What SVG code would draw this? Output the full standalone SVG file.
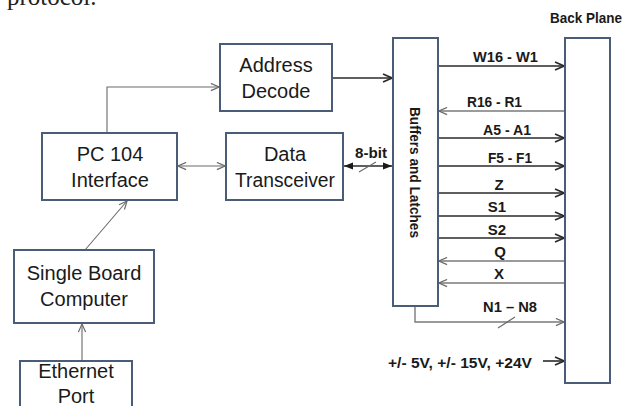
<svg xmlns="http://www.w3.org/2000/svg" width="630" height="406" viewBox="0 0 630 406">
<defs>
<style>
.box{fill:#fff;stroke:#4a5d78;stroke-width:2}
.t{font-family:"Liberation Sans",Arial,sans-serif;font-size:20px;fill:#1a1a1a;text-anchor:middle}
.b{font-family:"Liberation Sans",Arial,sans-serif;font-weight:bold;font-size:15px;fill:#1a1a1a}
.thin{fill:none;stroke:#6a6a6a;stroke-width:1.1}
.bus{fill:none;stroke:#2a2a2a;stroke-width:1.6}
.gbus{fill:none;stroke:#7a7a7a;stroke-width:1.4}
</style>
<marker id="ag" viewBox="0 0 10 10" refX="10" refY="5" markerWidth="9" markerHeight="9" markerUnits="userSpaceOnUse" orient="auto-start-reverse"><path d="M1,1 L10,5 L1,9" fill="none" stroke="#6a6a6a" stroke-width="1.3"/></marker>
<marker id="ab" viewBox="0 0 10 10" refX="10" refY="5" markerWidth="10" markerHeight="10" markerUnits="userSpaceOnUse" orient="auto-start-reverse"><path d="M1,1 L10,5 L1,9" fill="none" stroke="#2a2a2a" stroke-width="1.6"/></marker>
<marker id="af" viewBox="0 0 10 10" refX="10" refY="5" markerWidth="9" markerHeight="9" markerUnits="userSpaceOnUse" orient="auto-start-reverse"><path d="M0,1 L10,5 L0,9 Z" fill="#1a1a1a"/></marker>
</defs>
<rect width="630" height="406" fill="#fff"/>
<text x="7" y="5" font-family="Liberation Serif,serif" font-size="25" fill="#222">protocol.</text>

<g id="connectors">
<path class="thin" d="M107,133 V87 H219" marker-end="url(#ag)"/>
<path class="thin" d="M178,166 H225" marker-start="url(#ag)" marker-end="url(#ag)"/>
<path class="thin" d="M85,250 L127,201" marker-end="url(#ag)"/>
<path class="thin" d="M82,361 V324" marker-end="url(#ag)"/>
<path class="bus" d="M333,78 H392" marker-end="url(#ab)"/>
<path class="bus" d="M344,166 H392" marker-start="url(#af)" marker-end="url(#af)"/>
<path class="thin" d="M359,172 L376,162"/>
<path class="bus" d="M439,66 H564" marker-end="url(#ab)"/>
<path class="gbus" d="M564,111 H439" marker-end="url(#ag)"/>
<path class="bus" d="M439,138 H564" marker-end="url(#ab)"/>
<path class="bus" d="M439,166 H564" marker-end="url(#ab)"/>
<path class="bus" d="M439,193 H564" marker-end="url(#ab)"/>
<path class="bus" d="M439,216 H564" marker-end="url(#ab)"/>
<path class="bus" d="M439,238 H564" marker-end="url(#ab)"/>
<path class="gbus" d="M564,261 H439" marker-end="url(#ag)"/>
<path class="gbus" d="M564,283 H439" marker-end="url(#ag)"/>
<path class="gbus" d="M415,307 V322 H564" marker-end="url(#ag)"/>
<path class="thin" d="M498,328 L515,317"/>
<path class="bus" d="M543,361 H564" marker-end="url(#ab)"/>
</g>

<g id="address-decode"><rect class="box" x="220" y="44" width="112" height="67"/><text class="t" x="276" y="72">Address</text><text class="t" x="276" y="98">Decode</text></g>
<g id="pc104"><rect class="box" x="42" y="133" width="135" height="67"/><text class="t" x="110" y="161">PC 104</text><text class="t" x="110" y="187">Interface</text></g>
<g id="data-transceiver"><rect class="box" x="226" y="133" width="117" height="67"/><text class="t" x="285" y="161">Data</text><text class="t" x="285" y="187" textLength="100" lengthAdjust="spacingAndGlyphs">Transceiver</text></g>
<g id="sbc"><rect class="box" x="14" y="250" width="140" height="73"/><text class="t" x="84" y="280">Single Board</text><text class="t" x="84" y="306">Computer</text></g>
<g id="ethernet"><rect class="box" x="20" y="361" width="112" height="60"/><text class="t" x="76" y="378">Ethernet</text><text class="t" x="76" y="403">Port</text></g>
<g id="buffers"><rect class="box" x="393" y="38" width="45" height="268"/><text class="b" transform="translate(410,107) rotate(90)" textLength="131" lengthAdjust="spacingAndGlyphs">Buffers and Latches</text></g>
<g id="backplane"><rect class="box" x="565" y="38" width="45" height="345"/><text class="b" x="550" y="23" textLength="72" lengthAdjust="spacingAndGlyphs">Back Plane</text></g>

<g id="labels">
<text class="b" x="355" y="158" textLength="32" lengthAdjust="spacingAndGlyphs">8-bit</text>
<text class="b" x="473" y="62" textLength="65" lengthAdjust="spacingAndGlyphs">W16 - W1</text>
<text class="b" x="467" y="107" textLength="55" lengthAdjust="spacingAndGlyphs">R16 - R1</text>
<text class="b" x="483" y="135" textLength="48" lengthAdjust="spacingAndGlyphs">A5 - A1</text>
<text class="b" x="488" y="163" textLength="44" lengthAdjust="spacingAndGlyphs">F5 - F1</text>
<text class="b" x="499" y="190" text-anchor="middle">Z</text>
<text class="b" x="497" y="212" text-anchor="middle">S1</text>
<text class="b" x="497" y="235" text-anchor="middle">S2</text>
<text class="b" x="500" y="257" text-anchor="middle">Q</text>
<text class="b" x="499" y="279" text-anchor="middle">X</text>
<text class="b" x="483" y="312" textLength="54" lengthAdjust="spacingAndGlyphs">N1 – N8</text>
<text class="b" x="388" y="368" textLength="144" lengthAdjust="spacingAndGlyphs">+/- 5V, +/- 15V,  +24V</text>
</g>
</svg>
